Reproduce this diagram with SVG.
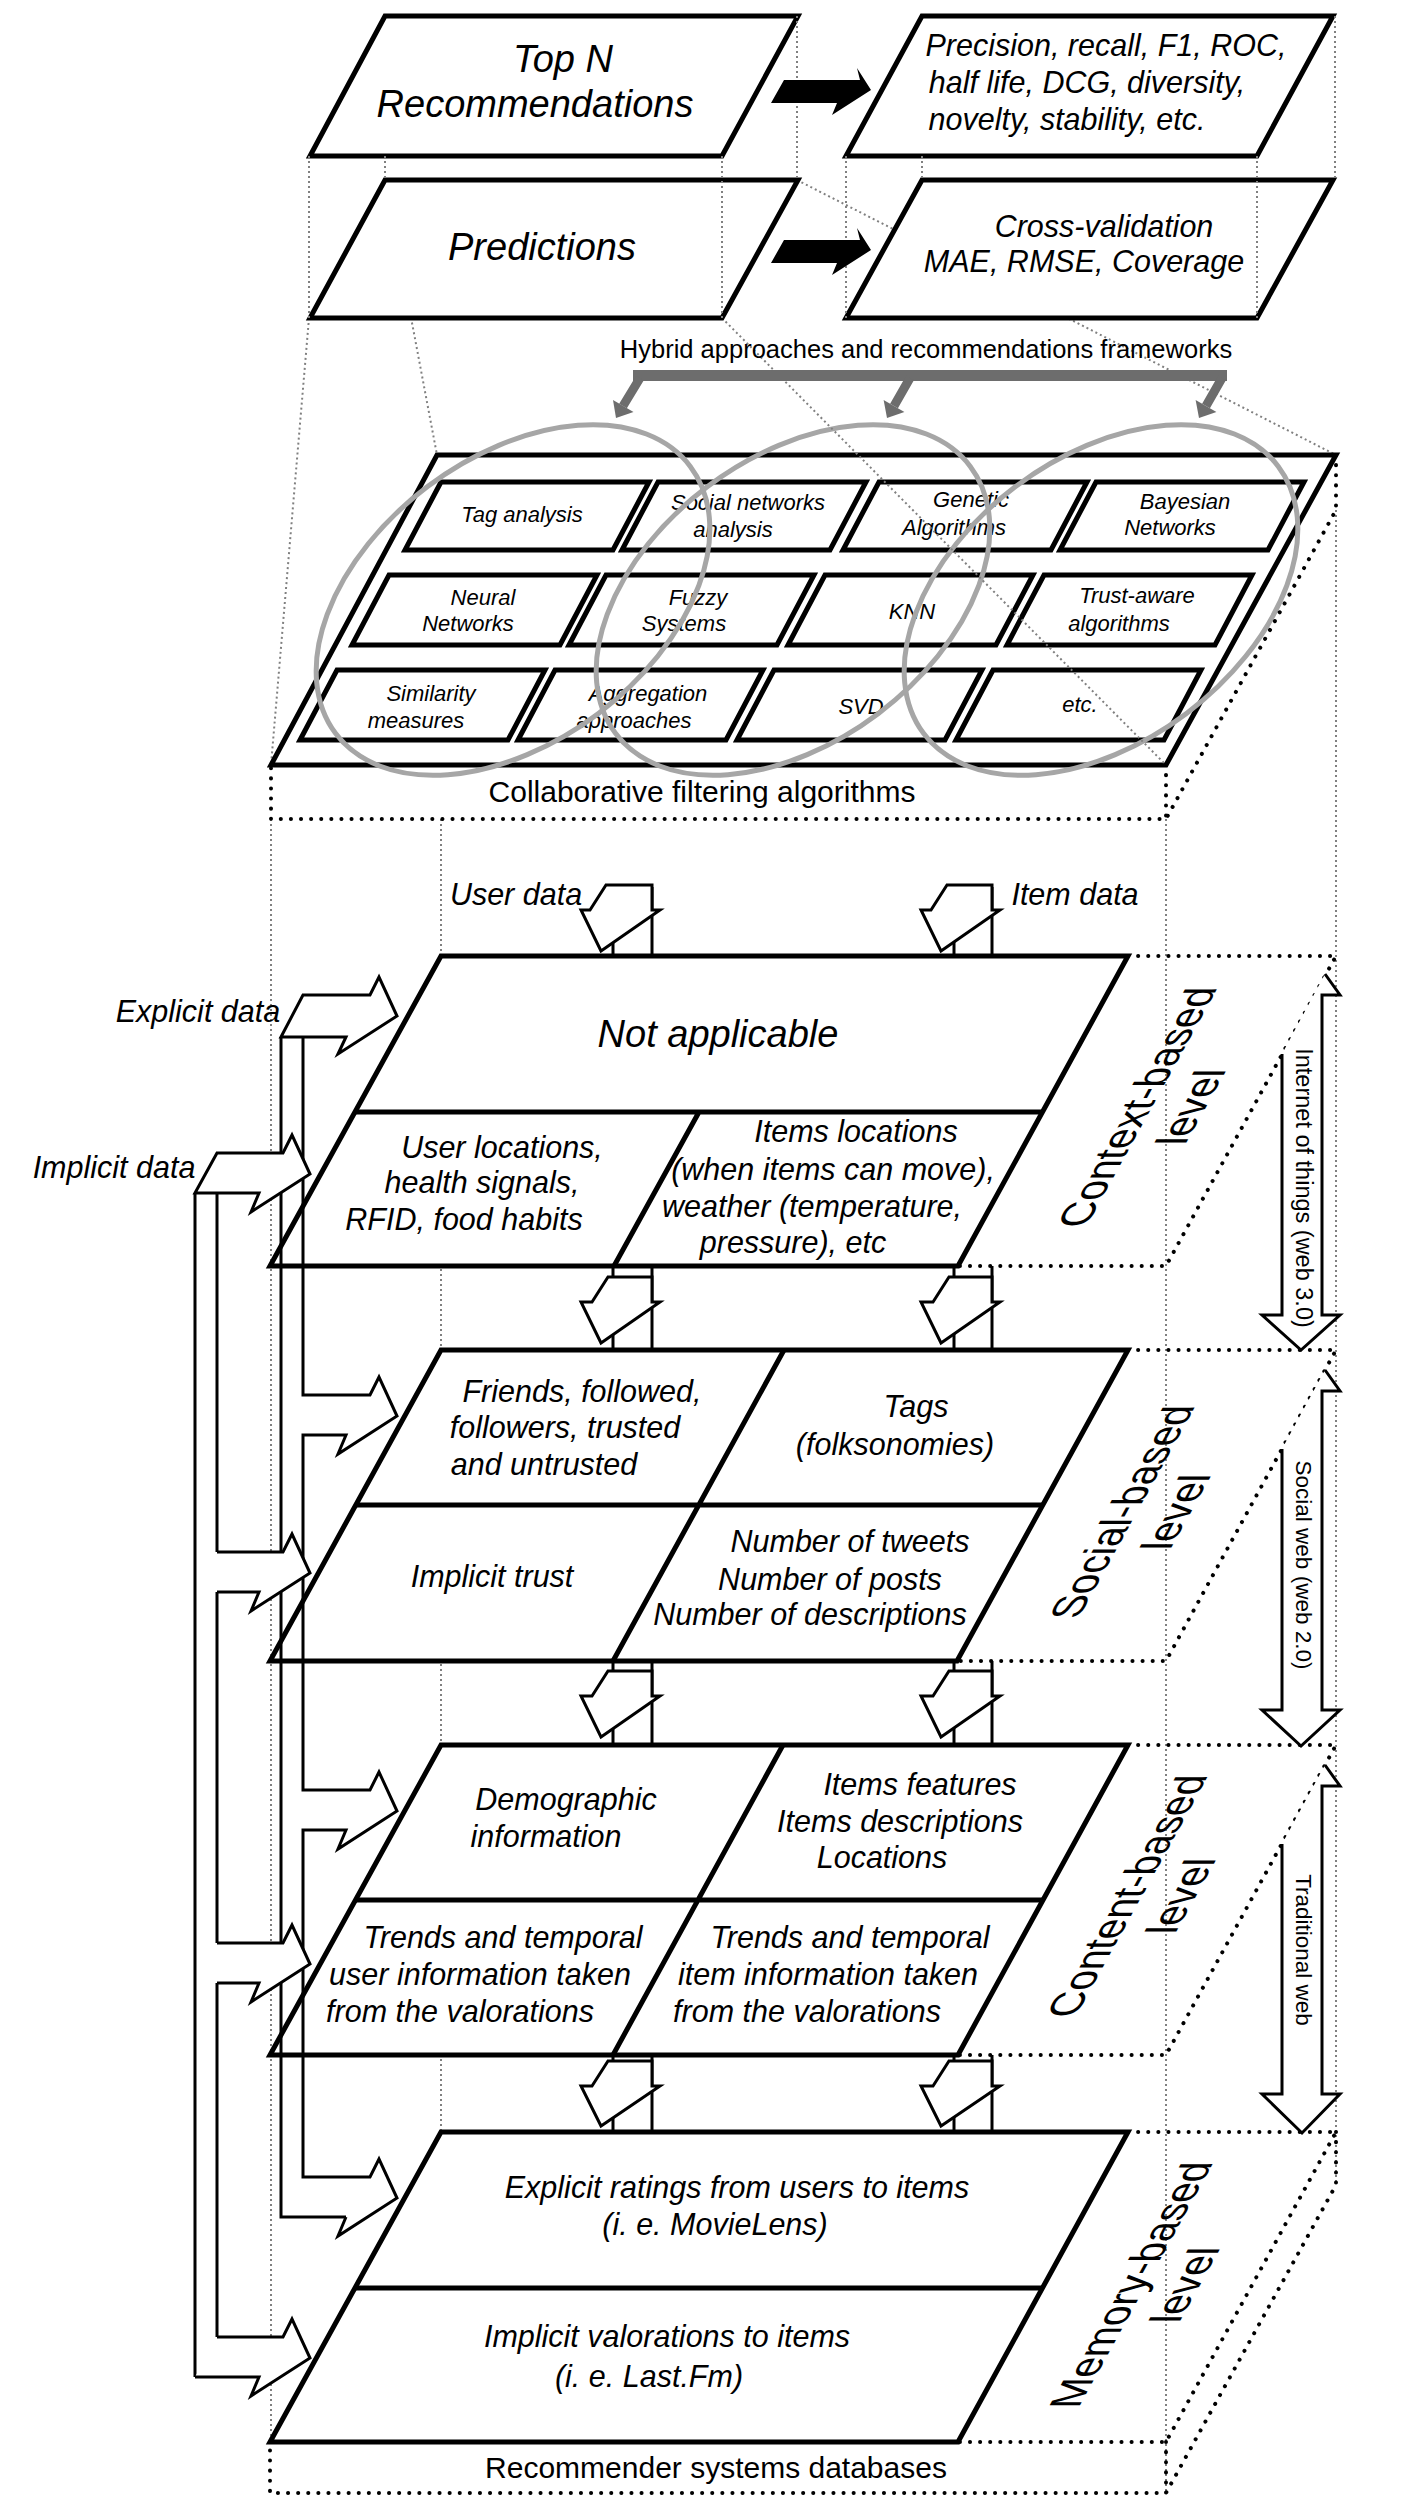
<svg xmlns="http://www.w3.org/2000/svg" width="1414" height="2516" viewBox="0 0 1414 2516">
<defs>
<style>
.box{fill:#fff;stroke:#000;stroke-width:5;stroke-linejoin:miter}
.cell{fill:#fff;stroke:#000;stroke-width:5}
.div{fill:none;stroke:#000;stroke-width:5}
.gd{fill:none;stroke:#808080;stroke-width:2;stroke-dasharray:2 3}
.bd{fill:none;stroke:#000;stroke-width:4;stroke-dasharray:0.1 10;stroke-linecap:round}
.ell{fill:none;stroke:#a6a6a6;stroke-width:5}
.pipe{fill:none;stroke:#000;stroke-width:3}
.wa{fill:#fff;stroke:#000;stroke-width:3;stroke-linejoin:miter}
.blk{fill:#000}
.gr{fill:#6d6d6d}
.t{font-family:"Liberation Sans",Arial,sans-serif;text-anchor:middle;fill:#000}
.i{font-style:italic}
.s22{font-size:22px}
.s30{font-size:30.5px}
.s38{font-size:38px}
.lv{font-size:44px}
</style>
</defs>
<rect width="1414" height="2516" fill="#fff"/>

<g id="connectors-back">
<path class="gd" d="M309,318 L271,765 M385,180 L437,455 M797,180 L1336,455"/>
<path class="gd" d="M271,819 V2442 M441,819 V2132 M1166,819 V2493 M1336,510 V2185"/>
</g>

<g id="cf-algorithms">
<polygon class="box" points="437,455 1336,455 1166,765 271,765"/>
<polygon class="cell" points="441,482 649,482 613,550 405,550"/>
<polygon class="cell" points="658,482 866,482 830,550 622,550"/>
<polygon class="cell" points="879,482 1087,482 1051,550 843,550"/>
<polygon class="cell" points="1096,482 1304,482 1268,550 1060,550"/>
<polygon class="cell" points="389,575 597,575 560,645 352,645"/>
<polygon class="cell" points="606,575 814,575 777,645 569,645"/>
<polygon class="cell" points="825,575 1033,575 996,645 788,645"/>
<polygon class="cell" points="1044,575 1252,575 1215,645 1007,645"/>
<polygon class="cell" points="337,670 545,670 508,740 300,740"/>
<polygon class="cell" points="555,670 763,670 726,740 518,740"/>
<polygon class="cell" points="774,670 982,670 945,740 737,740"/>
<polygon class="cell" points="993,670 1201,670 1164,740 956,740"/>
<g class="t i s22">
<text x="522" y="522">Tag analysis</text>
<text x="748" y="510">Social networks</text>
<text x="733" y="537">analysis</text>
<text x="971" y="507">Genetic</text>
<text x="954" y="535">Algorithms</text>
<text x="1185" y="509">Bayesian</text>
<text x="1170" y="535">Networks</text>
<text x="483" y="605">Neural</text>
<text x="468" y="631">Networks</text>
<text x="698" y="605">Fuzzy</text>
<text x="684" y="631">Systems</text>
<text x="912" y="619">KNN</text>
<text x="1137" y="603">Trust-aware</text>
<text x="1119" y="631">algorithms</text>
<text x="431" y="701">Similarity</text>
<text x="416" y="728">measures</text>
<text x="648" y="701">Aggregation</text>
<text x="634" y="728">approaches</text>
<text x="861" y="714">SVD</text>
<text x="1080" y="712">etc.</text>
</g>
<ellipse class="ell" cx="513" cy="600" rx="222" ry="142" transform="rotate(-37 513 600)"/>
<ellipse class="ell" cx="793" cy="600" rx="222" ry="142" transform="rotate(-37 793 600)"/>
<ellipse class="ell" cx="1101" cy="600" rx="222" ry="142" transform="rotate(-37 1101 600)"/>
<text class="t" font-size="30" x="702" y="802">Collaborative filtering algorithms</text>
</g>

<g id="connectors-mid">
<path class="gd" d="M722,318 L1166,765"/>
<path class="bd" d="M1336,455 V510 L1166,819 H271 V765 M1166,765 V819"/>
</g>

<g id="top-n">
<polygon class="box" points="385,16 798,16 722,156 310,156"/>
<text class="t i s38" x="563" y="72">Top N</text>
<text class="t i s38" x="535" y="117">Recommendations</text>
</g>
<g id="topn-metrics">
<polygon class="box" points="922,16 1333,16 1257,156 846,156"/>
<text class="t i s30" x="1106" y="56">Precision, recall, F1, ROC,</text>
<text class="t i s30" x="1087" y="93">half life, DCG, diversity,</text>
<text class="t i s30" x="1067" y="130">novelty, stability, etc.</text>
</g>
<g id="predictions">
<polygon class="box" points="385,180 798,180 722,318 310,318"/>
<text class="t i s38" x="542" y="260">Predictions</text>
</g>
<g id="prediction-metrics">
<polygon class="box" points="922,180 1333,180 1257,318 846,318"/>
<text class="t i s30" x="1104" y="237">Cross-validation</text>
<text class="t i s30" x="1084" y="272">MAE, RMSE, Coverage</text>
</g>

<g id="connectors-top">
<path class="gd" d="M309,156 V318 M385,156 V180 M722,156 V318 M797,16 V180 M846,156 V318 M922,156 V180 M1257,156 V318 M1335,16 V180"/>
<path class="blk" d="M784,80 L860,80 L857,68 L871,90 L832,115 L837,103 L771,103 Z"/>
<path class="blk" d="M784,240 L860,240 L857,228 L871,250 L832,275 L837,263 L771,263 Z"/>
</g>

<g id="hybrid">
<text class="t" font-size="25.5" x="926" y="358">Hybrid approaches and recommendations frameworks</text>
<rect class="gr" x="633" y="370" width="594" height="11"/>
<path d="M640,378 L623,406 M910,378 L894,406 M1222,378 L1206,406" stroke="#6d6d6d" stroke-width="9" fill="none"/>
<polygon class="gr" points="633.5,412 613,400 616,418"/>
<polygon class="gr" points="904.4,412 883.6,400 887,418"/>
<polygon class="gr" points="1216.4,412 1195.6,400 1199,418"/>
</g>

<g id="connectors-layers">
<path class="bd" d="M1128,956 H1336 L1166,1266 H958 M1128,1350 H1336 L1166,1661 H957 M1128,1745 H1336 L1166,2055 H958 M1128,2132 H1336 L1166,2442 H958 M1336,2132 V2185 L1166,2493 H270 V2442 M1166,2442 V2493"/>
</g>

<g id="context-level">
<polygon class="box" points="441,956 1128,956 958,1266 270,1266"/>
<path class="div" d="M355,1112 H1043 M699,1112 L614,1266"/>
<text class="t i s38" x="718" y="1047">Not applicable</text>
<text class="t i s30" x="502" y="1158">User locations,</text>
<text class="t i s30" x="482" y="1193">health signals,</text>
<text class="t i s30" x="464" y="1230">RFID, food habits</text>
<text class="t i s30" x="856" y="1142">Items locations</text>
<text class="t i s30" x="833" y="1180">(when items can move),</text>
<text class="t i s30" x="812" y="1217">weather (temperature,</text>
<text class="t i s30" x="793" y="1253">pressure), etc</text>
</g>

<g id="social-level">
<polygon class="box" points="441,1350 1128,1350 957,1661 270,1661"/>
<path class="div" d="M356,1505 H1043 M784,1350 L613,1661"/>
<text class="t i s30" x="582" y="1402">Friends, followed,</text>
<text class="t i s30" x="565" y="1438">followers, trusted</text>
<text class="t i s30" x="544" y="1475">and untrusted</text>
<text class="t i s30" x="916" y="1417">Tags</text>
<text class="t i s30" x="895" y="1455">(folksonomies)</text>
<text class="t i s30" x="492" y="1587">Implicit trust</text>
<text class="t i s30" x="850" y="1552">Number of tweets</text>
<text class="t i s30" x="830" y="1590">Number of posts</text>
<text class="t i s30" x="810" y="1625">Number of descriptions</text>
</g>

<g id="content-level">
<polygon class="box" points="441,1745 1128,1745 958,2055 270,2055"/>
<path class="div" d="M356,1900 H1043 M783,1745 L613,2055"/>
<text class="t i s30" x="566" y="1810">Demographic</text>
<text class="t i s30" x="546" y="1847">information</text>
<text class="t i s30" x="920" y="1795">Items features</text>
<text class="t i s30" x="900" y="1832">Items descriptions</text>
<text class="t i s30" x="882" y="1868">Locations</text>
<text class="t i s30" x="503" y="1948">Trends and temporal</text>
<text class="t i s30" x="480" y="1985">user information taken</text>
<text class="t i s30" x="460" y="2022">from the valorations</text>
<text class="t i s30" x="850" y="1948">Trends and temporal</text>
<text class="t i s30" x="828" y="1985">item information taken</text>
<text class="t i s30" x="807" y="2022">from the valorations</text>
</g>

<g id="memory-level">
<polygon class="box" points="441,2132 1128,2132 958,2442 270,2442"/>
<path class="div" d="M355,2288 H1042"/>
<text class="t i s30" x="737" y="2198">Explicit ratings from users to items</text>
<text class="t i s30" x="715" y="2235">(i. e. MovieLens)</text>
<text class="t i s30" x="667" y="2347">Implicit valorations to items</text>
<text class="t i s30" x="649" y="2387">(i. e. Last.Fm)</text>
<text class="t" font-size="30" x="716" y="2478">Recommender systems databases</text>
</g>

<g id="data-flow">
<path class="pipe" d="M613,887 V956 M652,887 V956 M954,887 V956 M992,887 V956 M613,1266 V1350 M652,1266 V1350 M954,1266 V1350 M992,1266 V1350 M613,1661 V1745 M652,1661 V1745 M954,1661 V1745 M992,1661 V1745 M613,2055 V2132 M652,2055 V2132 M954,2055 V2132 M992,2055 V2132"/>
<path class="wa" d="M606,885 H652 V910 H660 L601,951 L581,910 H590 Z"/>
<path class="wa" d="M947,885 H992 V910 H1000 L941,951 L921,910 H931 Z"/>
<path class="wa" d="M608,1277 H652 V1302 H660 L601,1343 L581,1302 H592 Z"/>
<path class="wa" d="M949,1277 H992 V1302 H1000 L941,1343 L921,1302 H933 Z"/>
<path class="wa" d="M608,1671 H652 V1696 H660 L601,1737 L581,1696 H592 Z"/>
<path class="wa" d="M949,1671 H992 V1696 H1000 L941,1737 L921,1696 H933 Z"/>
<path class="wa" d="M608,2061 H652 V2086 H660 L601,2126 L581,2086 H592 Z"/>
<path class="wa" d="M949,2061 H992 V2086 H1000 L941,2126 L921,2086 H933 Z"/>
<text class="t i s30" x="516" y="905">User data</text>
<text class="t i s30" x="1075" y="905">Item data</text>
</g>

<g id="explicit-implicit-data">
<path class="wa" d="M281,1037 L303,995 H370 L379,977 L397,1016 L338,1054 L346,1037 Z"/>
<path class="pipe" d="M281,1037 V2217 H346"/>
<path class="pipe" d="M303,1037 V1395 H370 L379,1377 L397,1416 L338,1454 L346,1435 H303 V1790 H370 L379,1772 L397,1811 L338,1849 L346,1830 H303 V2177 H370 L379,2159 L397,2198 L338,2236 L346,2217"/>
<path class="wa" d="M195,1193 L217,1153 H283 L292,1135 L310,1174 L251,1212 L259,1193 Z"/>
<path class="pipe" d="M195,1193 V2377 M217,1193 V1552 M217,1592 V1943 M217,1983 V2337"/>
<path class="wa" d="M217,1552 H283 L292,1534 L310,1573 L251,1611 L259,1592 H217"/>
<path class="wa" d="M217,1943 H283 L292,1925 L310,1964 L251,2002 L259,1983 H217"/>
<path class="wa" d="M217,2337 H283 L292,2319 L310,2358 L251,2396 L259,2377 H195"/>
<text class="t i s30" x="198" y="1022">Explicit data</text>
<text class="t i s30" x="114" y="1178">Implicit data</text>
</g>

<g id="web-eras">
<path class="wa" d="M1325,974 L1340,995 H1322 V1315 H1340 L1301,1350 L1262,1315 H1282 V1054"/>
<path class="wa" d="M1325,1370 L1340,1391 H1322 V1710 H1340 L1301,1746 L1262,1710 H1282 V1449"/>
<path class="wa" d="M1325,1765 L1340,1786 H1322 V2094 H1340 L1302,2133 L1262,2094 H1282 V1844"/>
<text class="t" font-size="23.5" transform="translate(1296,1188) rotate(90)">Internet of things (web 3.0)</text>
<text class="t" font-size="22.5" transform="translate(1296,1565) rotate(90)">Social web (web 2.0)</text>
<text class="t" font-size="22.5" transform="translate(1296,1950) rotate(90)">Traditional web</text>
</g>

<g id="level-labels" class="t lv">
<g transform="matrix(0.462,-0.84,1,0,1152,1107)"><text x="0" y="0">Context-based</text><text x="0" y="54">level</text></g>
<g transform="matrix(0.462,-0.84,1,0,1137,1512)"><text x="0" y="0">Social-based</text><text x="0" y="54">level</text></g>
<g transform="matrix(0.462,-0.84,1,0,1142,1896)"><text x="0" y="0">Content-based</text><text x="0" y="54">level</text></g>
<g transform="matrix(0.462,-0.84,1,0,1146,2285)"><text x="0" y="0">Memory-based</text><text x="0" y="54">level</text></g>
</g>
</svg>
